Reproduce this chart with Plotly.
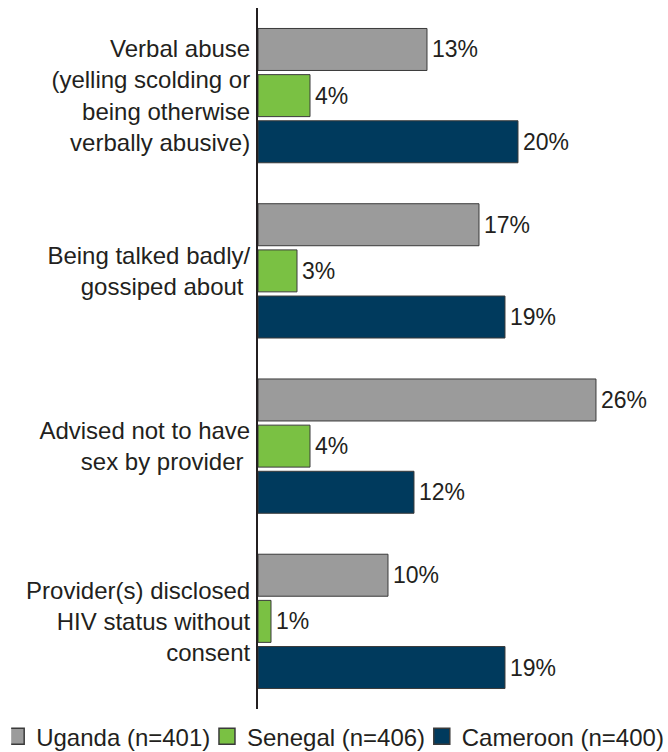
import plotly.graph_objects as go

categories = [
    "Verbal abuse<br>(yelling scolding or<br>being otherwise<br>verbally abusive)",
    "Being talked badly/<br>gossiped about\u00a0",
    "Advised not to have<br>sex by provider\u00a0",
    "Provider(s) disclosed<br>HIV status without<br>consent",
]
series_names = ["Uganda (n=401)", "Senegal (n=406)", "Cameroon (n=400)"]
legend_labels = ["Uganda (n=401)\u00a0", "Senegal (n=406)\u00a0", "Cameroon (n=400)"]
uganda = [13, 17, 26, 10]
senegal = [4, 3, 4, 1]
cameroon = [20, 19, 12, 19]
colors = ["#9b9b9b", "#7ac143", "#003a5d"]
edge = "#3a3a3a"

fig = go.Figure()
for name, vals, col in zip(series_names, [uganda, senegal, cameroon], colors):
    fig.add_trace(go.Bar(
        name=name, y=categories, x=vals, orientation="h",
        marker=dict(color=col, line=dict(color=edge, width=1)),
        text=[f"\u200a{v}%" for v in vals], textposition="outside",
        textfont=dict(size=23, color="#231f20", family="Liberation Sans"),
        cliponaxis=False, showlegend=False, legendgroup=name,
    ))
# legend swatches (no data drawn)
for name, lab, col in zip(series_names, legend_labels, colors):
    fig.add_trace(go.Scatter(
        name=lab, x=[None], y=[None], mode="markers", legendgroup=name,
        marker=dict(symbol="square", size=16, color=col,
                    line=dict(color=edge, width=1.5)),
        showlegend=True, hoverinfo="skip",
    ))

fig.update_layout(
    width=668, height=752,
    margin=dict(l=258, r=0, t=8, b=43, autoexpand=False),
    barmode="group", bargap=0.21, bargroupgap=0.09,
    plot_bgcolor="white", paper_bgcolor="white",
    font=dict(family="Liberation Sans", size=24, color="#231f20"),
    showlegend=True,
    legend=dict(orientation="h", xref="paper", yref="paper",
                x=-0.602, xanchor="left", y=-0.0395, yanchor="middle",
                indentation=-15,
                font=dict(size=24, color="#231f20"), traceorder="normal"),
    xaxis=dict(range=[0, 31.54], showgrid=False, zeroline=False,
               showticklabels=False, showline=False, ticks=""),
    yaxis=dict(autorange="reversed", showline=True, linecolor="#231f20",
               linewidth=2, ticks="", ticklabelstandoff=1, showgrid=False,
               tickfont=dict(size=24, color="#231f20")),
)

fig.write_html("out.html", config={"displayModeBar": False},
               post_script="document.body.style.margin='0';")
